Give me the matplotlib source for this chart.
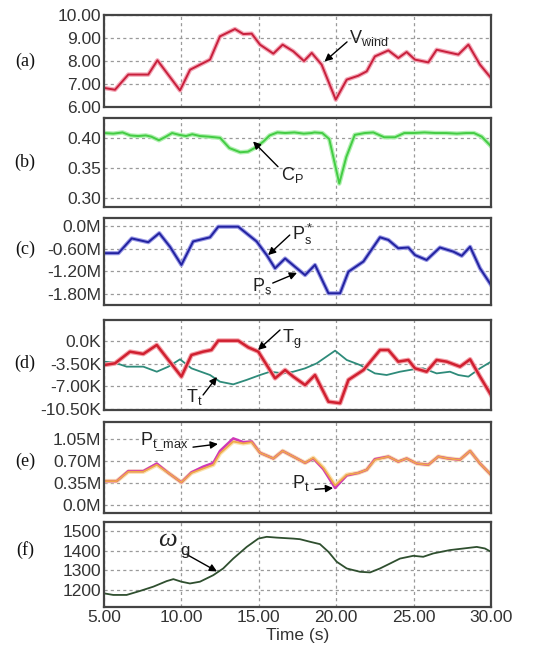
import matplotlib
matplotlib.use("Agg")
import matplotlib.pyplot as plt
import numpy as np

plt.rcParams['font.family'] = ['Liberation Sans', 'DejaVu Sans']
plt.rcParams['mathtext.fontset'] = 'custom'
plt.rcParams['mathtext.rm'] = 'Liberation Sans'
plt.rcParams['mathtext.it'] = 'Liberation Sans:italic'

# ---------------- data ----------------
t_wind = [5.0, 5.71, 6.57, 7.86, 8.45, 9.91, 10.56, 11.2, 11.85, 12.49, 13.46, 14.0, 14.54,
          15.08, 15.94, 16.54, 17.23, 17.92, 18.42, 19.06, 19.97, 20.68, 21.43, 21.97, 22.5,
          23.37, 24.01, 24.55, 25.09, 25.95, 26.49, 27.14, 27.89, 28.54, 29.29, 30.0]
v_wind = [6.83, 6.75, 7.41, 7.41, 8.03, 6.72, 7.62, 7.84, 8.06, 9.07, 9.39, 9.17, 9.19,
          8.71, 8.32, 8.71, 8.42, 8.0, 8.35, 7.84, 6.32, 7.19, 7.36, 7.55, 8.2,
          8.46, 8.13, 8.39, 8.06, 7.94, 8.49, 8.39, 8.28, 8.71, 7.84, 7.26]

t_cp = [5.0, 5.6, 6.2, 6.7, 7.2, 7.7, 8.05, 8.55, 9.0, 9.4, 9.85, 10.3, 10.7, 11.2, 11.75,
        12.5, 13.1, 13.8, 14.3, 14.8, 15.3, 15.7, 16.2, 16.7, 17.3, 17.9, 18.4, 18.6, 19.1,
        19.55, 19.85, 20.2, 20.65, 21.2, 21.85, 22.4, 23.1, 23.8, 24.4, 25.0, 25.7, 26.4,
        27.1, 27.8, 28.4, 28.9, 29.4, 30.0]
cp = [0.408, 0.407, 0.409, 0.404, 0.403, 0.404, 0.402, 0.396, 0.402, 0.408, 0.405, 0.403,
      0.406, 0.403, 0.402, 0.400, 0.383, 0.376, 0.377, 0.384, 0.394, 0.404, 0.409, 0.408,
      0.409, 0.407, 0.408, 0.409, 0.408, 0.398, 0.364, 0.324, 0.368, 0.405, 0.408, 0.409,
      0.401, 0.401, 0.408, 0.408, 0.409, 0.408, 0.408, 0.407, 0.408, 0.408, 0.402, 0.386]

t_ps = [5.0, 5.93, 6.79, 7.86, 8.57, 9.26, 10.0, 10.76, 11.85, 12.38, 13.67, 14.86, 15.51,
        16.05, 16.7, 17.34, 17.99, 18.63, 19.5, 20.25, 20.79, 21.76, 22.83, 23.37, 24.01,
        24.66, 25.09, 25.84, 26.7, 27.57, 28.11, 28.65, 29.29, 30.0]
p_s = [-0.72, -0.72, -0.33, -0.43, -0.19, -0.55, -1.03, -0.41, -0.30, -0.02, -0.02, -0.41,
       -0.77, -1.12, -0.86, -1.08, -1.30, -1.03, -1.78, -1.78, -1.21, -0.94, -0.30, -0.37,
       -0.59, -0.57, -0.77, -0.90, -0.57, -0.68, -0.79, -0.55, -1.12, -1.56]

t_tg = [5.0, 5.71, 6.68, 7.54, 8.41, 9.16, 10.0, 10.65, 11.4, 11.94, 12.38, 13.67, 14.32,
        14.97, 15.51, 16.05, 16.7, 17.23, 17.99, 18.63, 19.5, 20.25, 20.79, 21.76, 22.83,
        23.37, 24.01, 24.66, 25.09, 25.84, 26.49, 27.14, 28.0, 28.65, 29.29, 30.0]
t_g = [-3.71, -3.45, -1.65, -2.0, -0.62, -2.93, -5.5, -2.16, -1.65, -1.39, 0.05, 0.05,
       -0.98, -1.65, -3.71, -5.76, -4.48, -5.5, -6.8, -5.25, -9.37, -9.6, -6.0, -4.48,
       -1.39, -1.39, -3.19, -2.93, -4.22, -4.74, -2.93, -3.19, -3.96, -2.83, -5.5, -8.34]

t_tt = [5.0, 5.71, 6.46, 7.54, 8.41, 9.16, 9.91, 10.65, 11.85, 12.49, 13.35, 14.22, 15.08,
        15.73, 16.59, 17.23, 17.99, 18.74, 19.93, 20.68, 21.54, 22.5, 23.26, 24.12, 24.98,
        25.62, 26.49, 27.35, 27.89, 28.54, 29.29, 30.0]
t_t = [-3.19, -3.35, -3.96, -3.96, -4.74, -3.96, -2.83, -4.22, -5.25, -6.28, -6.69, -6.0,
       -5.25, -4.74, -5.0, -4.74, -4.22, -3.45, -1.49, -2.93, -3.71, -5.0, -5.25, -4.74,
       -4.38, -4.22, -5.0, -4.74, -5.25, -5.5, -4.22, -3.19]

t_pt = [5.0, 5.82, 6.57, 7.54, 8.41, 9.16, 10.0, 10.65, 11.4, 12.06, 12.49, 13.35, 14.0,
        14.54, 15.08, 15.94, 16.54, 17.23, 17.99, 18.52, 19.17, 19.93, 20.68, 21.43, 21.97,
        22.5, 23.37, 24.01, 24.55, 25.2, 25.95, 26.59, 27.24, 27.99, 28.65, 29.29, 30.0]
p_t = [0.38, 0.38, 0.53, 0.53, 0.64, 0.51, 0.36, 0.51, 0.58, 0.64, 0.82, 1.01, 0.98,
       1.00, 0.83, 0.74, 0.86, 0.77, 0.67, 0.75, 0.59, 0.31, 0.48, 0.51, 0.56,
       0.72, 0.77, 0.69, 0.74, 0.66, 0.64, 0.77, 0.74, 0.72, 0.86, 0.66, 0.48]
p_t_max = [0.38, 0.38, 0.54, 0.54, 0.66, 0.51, 0.36, 0.52, 0.61, 0.67, 0.86, 1.06, 1.00,
           1.01, 0.83, 0.74, 0.86, 0.77, 0.67, 0.74, 0.57, 0.27, 0.47, 0.51, 0.56,
           0.73, 0.77, 0.69, 0.74, 0.66, 0.64, 0.77, 0.74, 0.72, 0.86, 0.66, 0.48]

t_w = [5.0, 5.6, 6.46, 7.32, 8.19, 9.05, 9.48, 10.0, 10.55, 11.2, 12.06, 12.7, 13.35,
       14.22, 14.97, 15.51, 16.16, 17.23, 17.66, 18.31, 18.95, 19.5, 20.03, 20.68, 21.54,
       22.19, 22.83, 23.48, 24.12, 24.98, 25.62, 26.27, 27.35, 28.22, 29.08, 29.61, 30.0]
omega_g = [1184, 1176, 1176, 1196, 1218, 1246, 1256, 1243, 1234, 1243, 1276, 1310, 1360,
           1419, 1461, 1470, 1466, 1461, 1458, 1445, 1433, 1394, 1344, 1310, 1293,
           1290, 1310, 1335, 1360, 1374, 1369, 1386, 1403, 1411, 1419, 1411, 1394]

x_ticks = [5, 10, 15, 20, 25, 30]
x_ticklabels = ['5.00', '10.00', '15.00', '20.00', '25.00', '30.00']

panels = [
    dict(label='(a)', top=15, bot=107, ylim=(6.0, 10.0), ticks=[6, 7, 8, 9, 10],
         tl=['6.00', '7.00', '8.00', '9.00', '10.00'], ly=61),
    dict(label='(b)', top=118, bot=207, ylim=(0.285, 0.433), ticks=[0.30, 0.35, 0.40],
         tl=['0.30', '0.35', '0.40'], ly=162),
    dict(label='(c)', top=218, bot=305, ylim=(-2.09, 0.21), ticks=[-1.8, -1.2, -0.6, 0.0],
         tl=['-1.80M', '-1.20M', '-0.60M', '0.0M'], ly=249),
    dict(label='(d)', top=320, bot=410, ylim=(-10.65, 3.24), ticks=[-10.5, -7.0, -3.5, 0.0],
         tl=['-10.50K', '-7.00K', '-3.50K', '0.0K'], ly=363),
    dict(label='(e)', top=422, bot=513, ylim=(-0.127, 1.32), ticks=[0.0, 0.35, 0.70, 1.05],
         tl=['0.0M', '0.35M', '0.70M', '1.05M'], ly=461),
    dict(label='(f)', top=522, bot=607, ylim=(1115, 1545), ticks=[1200, 1300, 1400, 1500],
         tl=['1200', '1300', '1400', '1500'], ly=550),
]

W, H = 554, 661
fig = plt.figure(figsize=(W / 100, H / 100), dpi=100)
left, right = 104, 491
tick_color = '#333333'
axes = []
for i, p in enumerate(panels):
    ax = fig.add_axes([left / W, 1 - p['bot'] / H, (right - left) / W, (p['bot'] - p['top']) / H])
    ax.set_xlim(5, 30)
    ax.set_ylim(*p['ylim'])
    ax.set_yticks(p['ticks'])
    ax.set_yticklabels(p['tl'])
    ax.set_xticks(x_ticks)
    if i == len(panels) - 1:
        ax.set_xticklabels(x_ticklabels)
    else:
        ax.set_xticklabels([])
    ax.tick_params(length=0, labelsize=12.5, labelcolor=tick_color, pad=2)
    ax.grid(True, color='#9a9a9a', linestyle=(0, (2.5, 2.5)), linewidth=0.9)
    for s in ax.spines.values():
        s.set_color('#444444')
        s.set_linewidth(1.6)
    fig.text(25 / W, 1 - p['ly'] / H, p['label'], family='Liberation Serif', fontsize=13,
             ha='center', va='center', color='#111111')
    axes.append(ax)

ax_a, ax_b, ax_c, ax_d, ax_e, ax_f = axes

# (a)
ax_a.plot(t_wind, v_wind, color='#f4a8b8', lw=3.2, solid_joinstyle='round')
ax_a.plot(t_wind, v_wind, color='#c8203c', lw=1.4)
# (b)
ax_b.plot(t_cp, cp, color='#b0f0b0', lw=3.2)
ax_b.plot(t_cp, cp, color='#44cc44', lw=1.4)
# (c)
ax_c.plot(t_ps, p_s, color='#9a9ae6', lw=3.0)
ax_c.plot(t_ps, p_s, color='#2222a0', lw=1.4)
# (d)
ax_d.plot(t_tt, t_t, color='#2e8b7a', lw=1.3)
ax_d.plot(t_tg, t_g, color='#f4a0a8', lw=3.4)
ax_d.plot(t_tg, t_g, color='#d02030', lw=1.8)
# (e)
ax_e.plot(t_pt, p_t, color='#fbe3b0', lw=3.2)
ax_e.plot(t_pt, p_t_max, color='#d038b8', lw=1.8)
ax_e.plot(t_pt, p_t, color='#f0a848', lw=1.3)
# (f)
ax_f.plot(t_w, omega_g, color='#2f4f2f', lw=1.3)

ax_f.set_xlabel('Time (s)', fontsize=12.5, color=tick_color, labelpad=2)

arrow = dict(arrowstyle='-|>', color='black', lw=1.0, mutation_scale=11, shrinkA=0, shrinkB=0)
txt = dict(fontsize=13, color='#222222', va='center')

ax_a.annotate('', xy=(19.25, 7.98), xytext=(20.7, 8.83), arrowprops=arrow)
ax_a.text(20.85, 9.0, r'$\mathrm{V_{wind}}$', **txt)

ax_b.annotate('', xy=(14.63, 0.394), xytext=(16.24, 0.352), arrowprops=arrow)
ax_b.text(16.45, 0.338, r'$\mathrm{C_P}$', **txt)

ax_c.annotate('', xy=(15.6, -0.77), xytext=(17.0, -0.24), arrowprops=arrow)
ax_c.text(17.15, -0.22, r'$\mathrm{P_s^*}$', **txt)
ax_c.annotate('', xy=(17.47, -1.24), xytext=(15.9, -1.51), arrowprops=arrow)
ax_c.text(15.85, -1.6, r'$\mathrm{P_s}$', ha='right', **txt)

ax_d.annotate('', xy=(14.95, -1.39), xytext=(16.37, 1.7), arrowprops=arrow)
ax_d.text(16.5, 0.2, r'$\mathrm{T_g}$', **txt)
ax_d.annotate('', xy=(12.3, -5.55), xytext=(11.4, -8.33), arrowprops=arrow)
ax_d.text(11.35, -8.7, r'$\mathrm{T_t}$', ha='right', **txt)

ax_e.annotate('', xy=(12.36, 0.97), xytext=(10.75, 0.92), arrowprops=arrow)
ax_e.text(7.3, 1.0, r'$\mathrm{P_{t\_max}}$', **txt)
ax_e.annotate('', xy=(19.8, 0.27), xytext=(18.63, 0.25), arrowprops=arrow)
ax_e.text(17.15, 0.35, r'$\mathrm{P_t}$', **txt)

ax_f.annotate('', xy=(12.3, 1295), xytext=(10.36, 1380), arrowprops=arrow)
ax_f.text(8.5, 1452, 'ω', family='Liberation Serif', style='italic', fontsize=19,
          color='#222222', va='center')
ax_f.text(9.95, 1400, 'g', fontsize=12, color='#222222', va='center')

fig.savefig('out.png', dpi=100)
